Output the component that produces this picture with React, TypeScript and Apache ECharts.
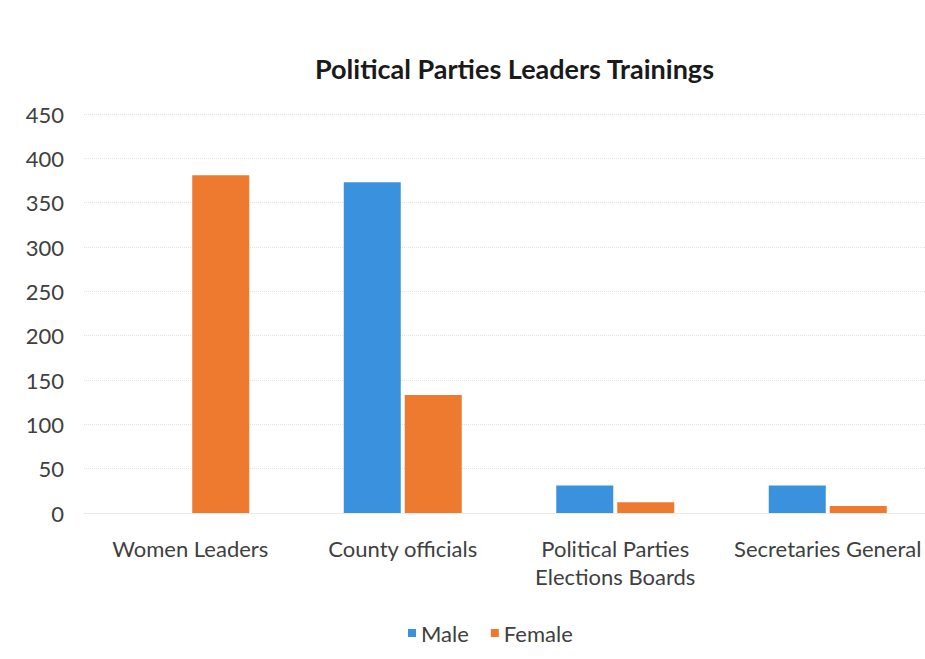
import React, { useEffect, useRef } from "react";
import * as echarts from "echarts";

const categories = ["Women Leaders", "County officials", "Political Parties\nElections Boards", "Secretaries General"];
const maleValues = [0, 373, 31, 31];
const femaleValues = [381, 133, 12, 8];
const yTicks = { min: 0, max: 450, interval: 50 };

export default function App() {
  const ref = useRef<HTMLDivElement>(null);
  useEffect(() => {
    if (!ref.current) return;
    const chart = echarts.init(ref.current, undefined, { renderer: "svg" });
    const font = "Lato, 'Open Sans', sans-serif";
    chart.setOption({
      animation: false,
      backgroundColor: "#ffffff",
      title: {
        text: "Political Parties Leaders Trainings",
        left: 310,
        top: 50,
        textStyle: { fontFamily: font, fontSize: 27, fontWeight: "bold", color: "#1a1a1a" },
      },
      legend: {
        data: ["Male", "Female"],
        left: 403,
        top: 617,
        icon: "rect",
        itemWidth: 8,
        itemHeight: 8,
        itemGap: 22,
        textStyle: { fontFamily: font, fontSize: 22, color: "#404040" },
      },
      grid: { left: 84, right: 10, top: 114, bottom: 146, containLabel: false },
      xAxis: {
        type: "category",
        data: categories,
        axisLine: { show: true, lineStyle: { color: "#e6e6e6", type: "dotted" } },
        axisTick: { show: false },
        axisLabel: { fontFamily: font, fontSize: 22, color: "#404040", margin: 21, lineHeight: 28, interval: 0 },
      },
      yAxis: {
        type: "value",
        min: yTicks.min,
        max: yTicks.max,
        interval: yTicks.interval,
        axisLine: { show: false },
        axisTick: { show: false },
        axisLabel: { fontFamily: font, fontSize: 22, color: "#404040", margin: 20 },
        splitLine: { show: true, lineStyle: { color: "#e3e3e3", type: "dotted", width: 1 } },
      },
      series: [
        {
          name: "Male",
          type: "bar",
          data: maleValues,
          barWidth: 57,
          barGap: "7%",
          itemStyle: { color: "#3a91de" },
        },
        {
          name: "Female",
          type: "bar",
          data: femaleValues,
          barWidth: 57,
          barGap: "7%",
          itemStyle: { color: "#ee7a30" },
        },
      ],
    });
    return () => chart.dispose();
  }, []);
  return (
    <div style={{ position: "fixed", left: 0, top: 0, width: 925, height: 659, overflow: "hidden", background: "#fff" }}>
      <div ref={ref} style={{ position: "absolute", left: 0, top: 0, width: 944, height: 659 }} />
    </div>
  );
}
